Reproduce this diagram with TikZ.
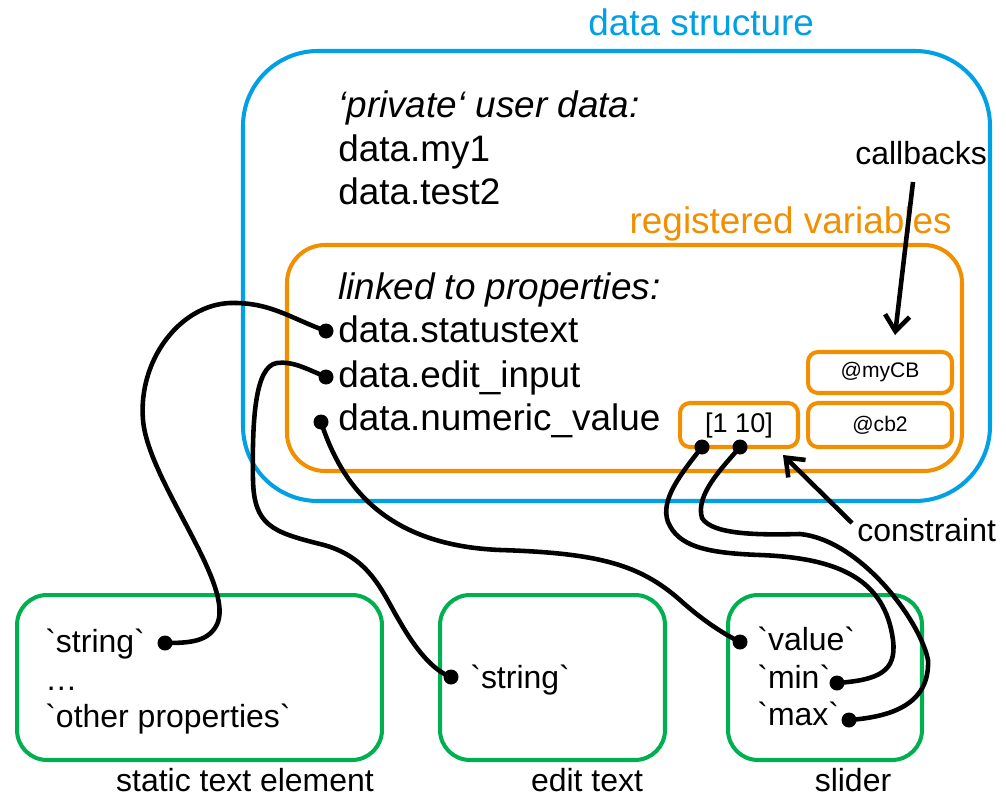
\documentclass[tikz,border=0pt]{standalone}
\usepackage{fontspec}
\newfontfamily\arial{Liberation Sans}
\usetikzlibrary{arrows.meta}
\definecolor{dsblue}{HTML}{00A0E4}
\definecolor{rvorange}{HTML}{F18F00}
\definecolor{elgreen}{HTML}{00B050}

\tikzset{
  frame/.style={line width=2.3pt, rounded corners=#1},
  bigtext/.style={font=\arial\fontsize{21}{25}\selectfont, inner sep=0pt},
  midtext/.style={font=\arial\fontsize{18.2}{22}\selectfont, inner sep=0pt},
  cbbox/.style={draw=rvorange, line width=2.3pt, rounded corners=.2cm,
    font=\arial\fontsize{12}{14}\selectfont, minimum width=2.88cm},
  elbox/.style={draw=elgreen, line width=2.3pt, rounded corners=.6cm, minimum height=3.3cm},
  plug/.style={circle, fill, inner sep=0pt, minimum size=.3cm},
  wire/.style={line width=2.6pt},
  arr/.style={line width=2.6pt, -{Straight Barb[length=9pt,width=14pt]}},
}

\begin{document}
\begin{tikzpicture}[x=.02cm,y=-.02cm]
\useasboundingbox (0,0) rectangle (1006,797);

% data structure with the registered variables inside
\draw[frame=1.5cm, dsblue] (243,51) rectangle (990,501);
\node[bigtext, text=dsblue, anchor=base west] (dstitle) at (588,36) {data structure};
\draw[frame=.76cm, rvorange] (287,245) rectangle (962,471);
\node[bigtext, text=rvorange, anchor=base east] (rvtitle) at (952,233) {registered variables};

\node[bigtext, anchor=base west, font=\arial\itshape\fontsize{21}{25}\selectfont] (priv) at (338,118) {‘private‘ user data:};
\node[bigtext, anchor=base west] (my1) at (338,162) {data.my1};
\node[bigtext, anchor=base west] (test2) at (338,204) {data.test2};
\node[bigtext, anchor=base west, font=\arial\itshape\fontsize{21}{25}\selectfont] (linked) at (338,299) {linked to properties:};
\node[bigtext, anchor=base west] (status) at (338,342) {data.statustext};
\node[bigtext, anchor=base west] (edit) at (338,387) {data.edit\_input};
\node[bigtext, anchor=base west] (numval) at (338,430) {data.numeric\_value};

\node[cbbox, minimum width=2.36cm, minimum height=.88cm, font=\arial\fontsize{15.4}{18}\selectfont] (range) at (739,425) {[1 10]};
\node[cbbox, minimum height=.82cm] (mycb) at (880,372.5) {@myCB};
\node[cbbox, minimum height=.88cm] (cb2) at (880,425) {@cb2};

\node[midtext, anchor=base west] (cblabel) at (855,165) {callbacks};
\node[midtext, anchor=base west] (cslabel) at (857,541) {constraint};
\coordinate (cbfrom) at (913,182);
\coordinate (cbto) at (895,335);
\coordinate (csfrom) at (852,523);
\coordinate (csto) at (783,455);
\draw[arr] (cbfrom) -- (cbto);
\draw[arr] (csfrom) -- (csto);

% gui elements
\node[elbox, minimum width=7.3cm] (static) at (199.5,677.5) {};
\node[elbox, minimum width=4.5cm] (edbox) at (552.5,677.5) {};
\node[elbox, minimum width=3.88cm] (slider) at (825,677.5) {};
\node[midtext, anchor=base] at (245,791) {static text element};
\node[midtext, anchor=base] at (587,791) {edit text};
\node[midtext, anchor=base] at (853,791) {slider};

\node[midtext, anchor=base west] (str1) at (45,652) {`string`};
\node[midtext, anchor=base west] at (45,690) {…};
\node[midtext, anchor=base west] at (45,727) {`other properties`};
\node[midtext, anchor=base west] (str2) at (470,688) {`string`};
\node[midtext, anchor=base west] (val) at (757,650) {`value`};
\node[midtext, anchor=base west] (min) at (757,688) {`min`};
\node[midtext, anchor=base west] (max) at (757,725) {`max`};

% connection points
\node[plug] (dstat) at (326,331) {};
\node[plug] (dedit) at (326,377) {};
\node[plug] (dnum) at (321,422) {};
\node[plug] (dlo) at (702,447) {};
\node[plug] (dhi) at (740,447) {};
\node[plug] (dstr1) at (165,643) {};
\node[plug] (dstr2) at (451,677) {};
\node[plug] (dval) at (740,642) {};
\node[plug] (dmin) at (837,683) {};
\node[plug] (dmax) at (849,720) {};

% links
\draw[wire] (dstat.center) .. controls (290,318) and (270,302) .. (230,303)
  .. controls (180,305) and (138,360) .. (143,420)
  .. controls (148,480) and (232,580) .. (218,622)
  .. controls (210,642) and (190,643) .. (dstr1.center);
\draw[wire] (dedit.center) .. controls (305,368) and (292,361) .. (277,363)
  .. controls (255,366) and (252,420) .. (253,480)
  .. controls (254,525) and (272,532) .. (320,544)
  .. controls (370,556) and (382,592) .. (400,622)
  .. controls (415,648) and (432,670) .. (dstr2.center);
\draw[wire] (dnum.center) .. controls (340,480) and (380,545) .. (500,550)
  .. controls (600,553) and (640,565) .. (680,600)
  .. controls (700,618) and (720,632) .. (dval.center);
\draw[wire] (dlo.center) .. controls (680,475) and (660,500) .. (668,522)
  .. controls (678,546) and (705,553) .. (760,555)
  .. controls (840,558) and (885,580) .. (893,640)
  .. controls (897,672) and (878,680) .. (dmin.center);
\draw[wire] (dhi.center) .. controls (722,468) and (695,495) .. (702,518)
  .. controls (712,535) and (760,535) .. (800,534)
  .. controls (860,540) and (920,620) .. (928,660)
  .. controls (930,705) and (890,717) .. (dmax.center);
\end{tikzpicture}
\end{document}
